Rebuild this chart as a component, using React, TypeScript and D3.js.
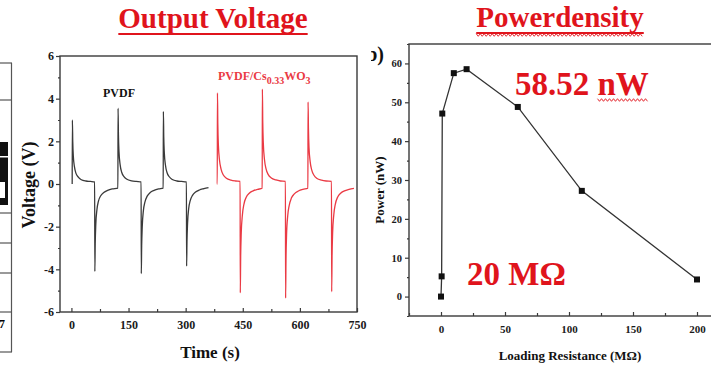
import { useRef, useEffect } from "react";
import * as d3 from "d3";

// PVDF film: output voltage trace (time in s, voltage in V)
const pvdfTime = [
    2, 2.5, 3.5, 5, 8, 12, 18, 26, 38, 50, 61,
    61.5, 62.5, 64, 67, 71, 77, 85, 95, 107, 122,
    122.5, 123.5, 125, 128, 132, 138, 146, 158, 170, 183,
    183.5, 184.5, 186, 189, 193, 199, 207, 217, 229, 241,
    241.5, 242.5, 244, 247, 251, 257, 265, 277, 289, 302,
    302.5, 303.5, 305, 308, 312, 318, 326, 336, 348, 360,
];
const pvdfVolt = [
    0, 3.0, 2.0, 1.3, 0.8, 0.5, 0.32, 0.2, 0.14, 0.12, 0.1,
    -4.1, -2.8, -1.9, -1.2, -0.8, -0.55, -0.4, -0.3, -0.23, -0.19,
    3.55, 2.3, 1.5, 0.9, 0.55, 0.35, 0.22, 0.15, 0.12, 0.1,
    -4.2, -2.9, -2.0, -1.25, -0.85, -0.57, -0.4, -0.3, -0.23, -0.19,
    3.4, 2.2, 1.45, 0.88, 0.54, 0.34, 0.21, 0.14, 0.12, 0.1,
    -3.85, -2.7, -1.85, -1.15, -0.78, -0.53, -0.38, -0.28, -0.22, -0.17,
];

// PVDF/Cs0.33WO3 composite film
const compTime = [
    382, 383, 383.5, 384.5, 386, 389, 393, 399, 407, 419, 431, 443,
    443.5, 444.5, 446, 449, 453, 459, 467, 477, 489, 501,
    501.5, 502.5, 504, 507, 511, 517, 525, 537, 549, 562,
    562.5, 563.5, 565, 568, 572, 578, 586, 596, 608, 621,
    621.5, 622.5, 624, 627, 631, 637, 645, 657, 669, 683,
    683.5, 684.5, 686, 689, 693, 699, 707, 717, 729, 742,
];
const compVolt = [
    0, 0, 4.27, 2.8, 1.8, 1.1, 0.7, 0.42, 0.27, 0.18, 0.14, 0.12,
    -5.1, -3.4, -2.3, -1.45, -0.95, -0.62, -0.43, -0.32, -0.25, -0.2,
    4.45, 2.9, 1.9, 1.15, 0.72, 0.44, 0.28, 0.19, 0.14, 0.12,
    -5.35, -3.6, -2.4, -1.5, -1.0, -0.65, -0.45, -0.33, -0.25, -0.2,
    3.85, 2.6, 1.7, 1.05, 0.66, 0.41, 0.26, 0.18, 0.14, 0.12,
    -5.05, -3.4, -2.3, -1.45, -0.95, -0.62, -0.43, -0.32, -0.25, -0.2,
];

const timeTicks = [0, 150, 300, 450, 600, 750];
const timeMinor = [75, 225, 375, 525, 675];
const voltTicks = [-6, -4, -2, 0, 2, 4, 6];
const voltMinor = [-5, -3, -1, 1, 3, 5];

// power vs loading resistance
const resistance = [0, 0.5, 1, 10, 20, 60, 110, 200];
const power = [0, 5.2, 47.1, 57.5, 58.52, 48.8, 27.2, 4.4];

const resTicks = [0, 50, 100, 150, 200];
const resMinor = [-25, 25, 75, 125, 175, 225];
const powTicks = [0, 10, 20, 30, 40, 50, 60];
const powMinor = [-5, 5, 15, 25, 35, 45, 55, 65];

// lines of the cropped table on the left edge
const tableRows = [63, 100, 213, 243, 273, 312, 352];

const SERIF = "'Liberation Serif', 'Times New Roman', serif";
const AXIS = "#3a3a3a";
const RED = "#e0141c";

export default function App() {
    const svgRef = useRef<SVGSVGElement>(null);

    useEffect(() => {
        if (!svgRef.current) return;
        const svg = d3.select(svgRef.current);
        svg.selectAll("*").remove();

        svg.append("rect").attr("width", 711).attr("height", 365).attr("fill", "#fff");

        // ---- left edge table fragment
        const tbl = svg.append("g").attr("stroke", "#555").attr("stroke-width", 1.2);
        tableRows.forEach((y) =>
            tbl.append("line").attr("x1", 0).attr("x2", 12).attr("y1", y).attr("y2", y)
        );
        tbl.append("line").attr("x1", 11.5).attr("x2", 11.5).attr("y1", 63).attr("y2", 352);
        svg.append("rect").attr("x", 0).attr("y", 142).attr("width", 8).attr("height", 63).attr("fill", "#111");
        svg.append("rect").attr("x", 0).attr("y", 156).attr("width", 8).attr("height", 1.5).attr("fill", "#fff");
        svg.append("rect").attr("x", 0).attr("y", 182).attr("width", 5).attr("height", 16).attr("fill", "#fff");
        svg.append("text").attr("x", -1).attr("y", 328).attr("font-family", SERIF)
            .attr("font-size", 12).attr("font-weight", "bold").text("7");

        const wave = (x0: number, x1: number, y: number) => {
            const pts = d3.range(x0, x1, 2).map((x, i) => [x, y + (i % 2 ? 1.3 : -1.3)] as [number, number]);
            svg.append("path").attr("d", d3.line()(pts)).attr("fill", "none")
                .attr("stroke", RED).attr("stroke-width", 0.9);
        };

        const title = (text: string, cx: number, y: number, squiggle: boolean) => {
            const t = svg.append("text").attr("x", cx).attr("y", y).attr("text-anchor", "middle")
                .attr("font-family", SERIF).attr("font-size", 29).attr("font-weight", "bold")
                .attr("fill", RED).text(text);
            const w = (t.node() as SVGTextElement).getComputedTextLength();
            svg.append("line").attr("x1", cx - w / 2).attr("x2", cx + w / 2)
                .attr("y1", y + 6).attr("y2", y + 6).attr("stroke", RED).attr("stroke-width", 2);
            if (squiggle) wave(cx - w / 2, cx + w / 2, y + 8);
        };

        const styleAxis = (g: d3.Selection<SVGGElement, unknown, null, undefined>, size: number) => {
            g.select(".domain").remove();
            g.selectAll(".tick line").attr("stroke", AXIS).attr("stroke-width", 1.2);
            g.selectAll(".tick text").attr("fill", "#1a1a1a").attr("font-family", SERIF)
                .attr("font-size", size).attr("font-weight", "bold");
        };

        // ---- Output Voltage panel
        const xV = d3.scaleLinear().domain([-30, 750]).range([60, 357]);
        const yV = d3.scaleLinear().domain([-6, 6]).range([312, 56]);

        title("Output Voltage", 213, 28, false);

        const gV = svg.append("g");
        gV.append("g").attr("transform", `translate(0,${yV(-6)})`)
            .call(d3.axisBottom(xV).tickValues(timeTicks).tickSize(-4).tickPadding(8).tickFormat((d) => String(d)))
            .call((g) => styleAxis(g, 12));
        gV.append("g").attr("transform", `translate(0,${yV(-6)})`)
            .call(d3.axisBottom(xV).tickValues(timeMinor).tickSize(-3).tickFormat(() => ""))
            .call((g) => styleAxis(g, 12));
        gV.append("g").attr("transform", `translate(${xV(-30)},0)`)
            .call(d3.axisLeft(yV).tickValues(voltTicks).tickSize(4).tickPadding(2).tickFormat((d) => String(d)))
            .call((g) => styleAxis(g, 12));
        gV.append("g").attr("transform", `translate(${xV(-30)},0)`)
            .call(d3.axisLeft(yV).tickValues(voltMinor).tickSize(2).tickFormat(() => ""))
            .call((g) => styleAxis(g, 12));

        gV.append("rect").attr("x", xV(-30)).attr("y", yV(6))
            .attr("width", xV(750) - xV(-30)).attr("height", yV(-6) - yV(6))
            .attr("fill", "none").attr("stroke", AXIS).attr("stroke-width", 1.4);

        const lineV = (ts: number[]) =>
            d3.line<number>().x((_, i) => xV(ts[i])).y((d) => yV(d)).curve(d3.curveMonotoneX);

        gV.append("path").attr("d", lineV(pvdfTime)(pvdfVolt)).attr("fill", "none")
            .attr("stroke", "#3a3a3a").attr("stroke-width", 1.3);
        gV.append("path").attr("d", lineV(compTime)(compVolt)).attr("fill", "none")
            .attr("stroke", "#ea3a44").attr("stroke-width", 1.3);

        gV.append("text").attr("x", 103).attr("y", 97).attr("font-family", SERIF)
            .attr("font-size", 12).attr("font-weight", "bold").attr("fill", "#111").text("PVDF");

        const comp = gV.append("text").attr("x", 218).attr("y", 80).attr("font-family", SERIF)
            .attr("font-size", 12).attr("font-weight", "bold").attr("fill", "#ea3a44");
        comp.append("tspan").text("PVDF/Cs");
        comp.append("tspan").attr("dy", 4).attr("font-size", 10).text("0.33");
        comp.append("tspan").attr("dy", -4).text("WO");
        comp.append("tspan").attr("dy", 4).attr("font-size", 10).text("3");

        gV.append("text").attr("x", 210).attr("y", 358).attr("text-anchor", "middle")
            .attr("font-family", SERIF).attr("font-size", 17).attr("font-weight", "bold")
            .attr("fill", "#111").text("Time (s)");
        gV.append("text").attr("transform", "translate(35,185) rotate(-90)").attr("text-anchor", "middle")
            .attr("font-family", SERIF).attr("font-size", 18).attr("font-weight", "bold")
            .attr("fill", "#111").text("Voltage (V)");

        // ---- Powerdensity panel
        const xP = d3.scaleLinear().domain([-25, 225]).range([409, 729]);
        const yP = d3.scaleLinear().domain([-5, 65]).range([316, 44]);

        title("Powerdensity", 560, 27, true);

        // cropped panel label
        svg.append("clipPath").attr("id", "lblclip").append("rect")
            .attr("x", 371).attr("y", 30).attr("width", 30).attr("height", 40);
        svg.append("text").attr("x", 384).attr("y", 61).attr("text-anchor", "end")
            .attr("clip-path", "url(#lblclip)").attr("font-family", SERIF).attr("font-size", 20)
            .attr("font-weight", "bold").attr("fill", "#111").text("(b)");

        const gP = svg.append("g");
        gP.append("g").attr("transform", `translate(0,${yP(-5)})`)
            .call(d3.axisBottom(xP).tickValues(resTicks).tickSize(-4).tickPadding(9).tickFormat((d) => String(d)))
            .call((g) => styleAxis(g, 11));
        gP.append("g").attr("transform", `translate(0,${yP(-5)})`)
            .call(d3.axisBottom(xP).tickValues(resMinor).tickSize(-3).tickFormat(() => ""))
            .call((g) => styleAxis(g, 11));
        gP.append("g").attr("transform", `translate(${xP(-25)},0)`)
            .call(d3.axisLeft(yP).tickValues(powTicks).tickSize(4).tickPadding(3).tickFormat((d) => String(d)))
            .call((g) => styleAxis(g, 10.5));
        gP.append("g").attr("transform", `translate(${xP(-25)},0)`)
            .call(d3.axisLeft(yP).tickValues(powMinor).tickSize(2).tickFormat(() => ""))
            .call((g) => styleAxis(g, 10.5));

        gP.append("rect").attr("x", xP(-25)).attr("y", yP(65))
            .attr("width", xP(225) - xP(-25)).attr("height", yP(-5) - yP(65))
            .attr("fill", "none").attr("stroke", AXIS).attr("stroke-width", 1.4);

        const lineP = d3.line<number>().x((_, i) => xP(resistance[i])).y((d) => yP(d));
        gP.append("path").attr("d", lineP(power)).attr("fill", "none")
            .attr("stroke", "#333").attr("stroke-width", 1.3);
        gP.selectAll(".mk").data(power).join("rect").attr("class", "mk")
            .attr("x", (_, i) => xP(resistance[i]) - 3).attr("y", (d) => yP(d) - 3)
            .attr("width", 6).attr("height", 6).attr("fill", "#111");

        const peak = gP.append("text").attr("x", 515).attr("y", 95).attr("font-family", SERIF)
            .attr("font-size", 33).attr("font-weight", "bold").attr("fill", RED);
        peak.append("tspan").text("58.52 ");
        const unit = peak.append("tspan").text("nW");
        const ub = (unit.node() as SVGTSpanElement).getBBox();
        wave(ub.x, ub.x + ub.width, 100);

        gP.append("text").attr("x", 467).attr("y", 285).attr("font-family", SERIF)
            .attr("font-size", 33).attr("font-weight", "bold").attr("fill", RED).text("20 MΩ");

        gP.append("text").attr("x", 570).attr("y", 360).attr("text-anchor", "middle")
            .attr("font-family", SERIF).attr("font-size", 13).attr("font-weight", "bold")
            .attr("fill", "#111").text("Loading Resistance (MΩ)");
        gP.append("text").attr("transform", "translate(384,190) rotate(-90)").attr("text-anchor", "middle")
            .attr("font-family", SERIF).attr("font-size", 13).attr("font-weight", "bold")
            .attr("fill", "#111").text("Power (nW)");
    }, []);

    return (
        <svg
            ref={svgRef}
            width={711}
            height={365}
            style={{ position: "absolute", left: 0, top: 0, display: "block" }}
        />
    );
}
